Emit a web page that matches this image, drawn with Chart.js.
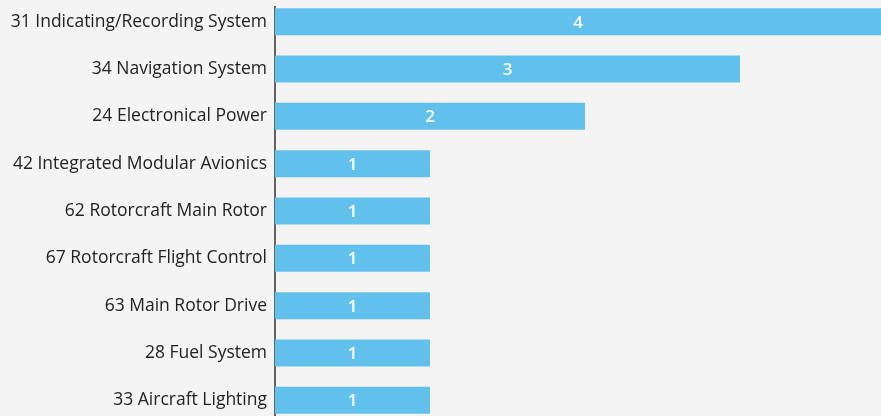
<!DOCTYPE html>
<html>
<head>
<meta charset="utf-8">
<script src="https://cdn.jsdelivr.net/npm/chart.js@4"></script>
<style>
  html, body { margin: 0; padding: 0; background: #f3f4f3; overflow: hidden; }
  body { width: 881px; height: 416px; position: relative; }
  #chart { position: absolute; left: 0; top: -2px; }
</style>
</head>
<body>
<canvas id="chart" width="895" height="426"></canvas>
<script>
  /* data */
  const categories = [
    '31 Indicating/Recording System',
    '34 Navigation System',
    '24 Electronical Power',
    '42 Integrated Modular Avionics',
    '62 Rotorcraft Main Rotor',
    '67 Rotorcraft Flight Control',
    '63 Main Rotor Drive',
    '28 Fuel System',
    '33 Aircraft Lighting'
  ];
  const counts = [4, 3, 2, 1, 1, 1, 1, 1, 1];

  const BAR_COLOR = '#62c1ec';
  const FONT = '"Open Sans", sans-serif';

  // y axis line, starting a little below the top of the plot
  const axisLine = {
    id: 'axisLine',
    beforeDatasetsDraw(chart) {
      const { ctx, chartArea } = chart;
      ctx.save();
      ctx.strokeStyle = '#333333';
      ctx.lineWidth = 1.5;
      ctx.beginPath();
      ctx.moveTo(chartArea.left, chartArea.top + 8);
      ctx.lineTo(chartArea.left, chartArea.bottom);
      ctx.stroke();
      ctx.restore();
    }
  };

  // white value labels centred in the visible part of each bar
  const valueLabels = {
    id: 'valueLabels',
    afterDatasetsDraw(chart) {
      const ctx = chart.ctx;
      const meta = chart.getDatasetMeta(0);
      ctx.save();
      ctx.fillStyle = '#ffffff';
      ctx.font = '600 17px ' + FONT;
      ctx.textAlign = 'center';
      ctx.textBaseline = 'middle';
      meta.data.forEach((bar, i) => {
        const right = Math.min(bar.x, 881);
        ctx.fillText(String(counts[i]), (bar.base + right) / 2, bar.y + 1);
      });
      ctx.restore();
    }
  };

  new Chart(document.getElementById('chart'), {
    type: 'bar',
    data: {
      labels: categories,
      datasets: [{
        data: counts,
        backgroundColor: BAR_COLOR,
        borderWidth: 0,
        categoryPercentage: 1,
        barPercentage: 0.57
      }]
    },
    options: {
      indexAxis: 'y',
      responsive: false,
      animation: false,
      layout: { padding: 0 },
      plugins: {
        legend: { display: false },
        tooltip: { enabled: false }
      },
      scales: {
        x: {
          display: false,
          min: 0,
          max: 4
        },
        y: {
          grid: { display: false },
          border: { display: false },
          afterFit: (scale) => {
            scale.width = 275;
            scale.paddingTop = 0;
            scale.paddingBottom = 0;
          },
          ticks: {
            color: '#222222',
            padding: 0,
            font: { family: FONT, size: 17.5 }
          }
        }
      }
    },
    plugins: [axisLine, valueLabels]
  });
</script>
</body>
</html>
